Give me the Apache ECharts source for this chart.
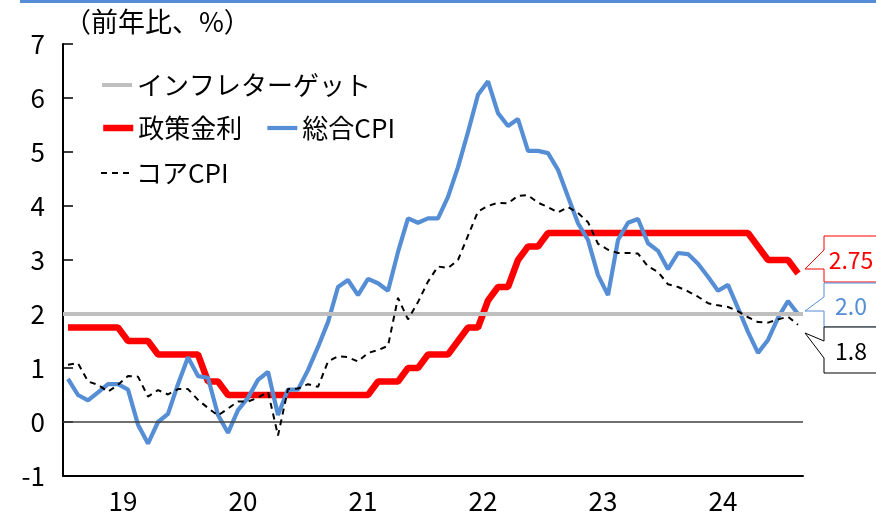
<!DOCTYPE html>
<html>
<head>
<meta charset="utf-8">
<script src="https://cdn.jsdelivr.net/npm/echarts@6/dist/echarts.min.js"></script>
<style>
  html, body { margin: 0; padding: 0; background: #fff; }
  #chart { width: 876px; height: 516px; }
</style>
</head>
<body>
<div id="chart"></div>
<script>
// monthly, 2019-01 .. 2025-02
const START_YEAR = 2019;
const N_MONTHS = 74;
const YEAR_LABELS = ['19', '20', '21', '22', '23', '24'];
const TARGET = 2;

const POLICY_RATE = [
  1.75, 1.75, 1.75, 1.75, 1.75, 1.75, 1.5, 1.5, 1.5, 1.25, 1.25, 1.25,
  1.25, 1.25, 0.75, 0.75, 0.5, 0.5, 0.5, 0.5, 0.5, 0.5, 0.5, 0.5,
  0.5, 0.5, 0.5, 0.5, 0.5, 0.5, 0.5, 0.75, 0.75, 0.75, 1.0, 1.0,
  1.25, 1.25, 1.25, 1.5, 1.75, 1.75, 2.25, 2.5, 2.5, 3.0, 3.25, 3.25,
  3.5, 3.5, 3.5, 3.5, 3.5, 3.5, 3.5, 3.5, 3.5, 3.5, 3.5, 3.5,
  3.5, 3.5, 3.5, 3.5, 3.5, 3.5, 3.5, 3.5, 3.5, 3.25, 3.0, 3.0,
  3.0, 2.75
];

const CPI_ALL = [
  0.8, 0.5, 0.4, 0.55, 0.7, 0.7, 0.6, -0.05, -0.4, 0.0, 0.15, 0.7,
  1.2, 0.85, 0.82, 0.13, -0.2, 0.22, 0.45, 0.78, 0.93, 0.13, 0.6, 0.6,
  0.96, 1.39, 1.85, 2.5, 2.63, 2.35, 2.65, 2.57, 2.43, 3.15, 3.77, 3.69,
  3.77, 3.77, 4.17, 4.72, 5.37, 6.06, 6.31, 5.72, 5.48, 5.61, 5.02, 5.02,
  4.98, 4.67, 4.17, 3.68, 3.37, 2.72, 2.35, 3.37, 3.69, 3.76, 3.31, 3.17,
  2.83, 3.13, 3.11, 2.93, 2.69, 2.43, 2.54, 2.11, 1.67, 1.28, 1.52, 1.93,
  2.24, 2.0
];

const CPI_CORE = [
  1.06, 1.09, 0.75, 0.69, 0.56, 0.69, 0.85, 0.84, 0.47, 0.59, 0.51, 0.61,
  0.61, 0.41, 0.26, 0.12, 0.25, 0.38, 0.38, 0.45, 0.56, -0.25, 0.61, 0.62,
  0.7, 0.65, 1.12, 1.22, 1.2, 1.12, 1.28, 1.33, 1.41, 2.3, 1.9, 2.22,
  2.6, 2.88, 2.85, 3.0, 3.45, 3.9, 4.0, 4.06, 4.05, 4.19, 4.2, 4.06,
  3.98, 3.88, 3.98, 3.87, 3.7, 3.3, 3.19, 3.13, 3.13, 3.12, 2.88, 2.78,
  2.55, 2.5, 2.42, 2.32, 2.2, 2.16, 2.13, 2.05, 1.94, 1.85, 1.84, 1.9,
  1.95, 1.8
];

const months = [];
for (let i = 0; i < N_MONTHS; i++) {
  const y = START_YEAR + Math.floor(i / 12);
  const m = (i % 12) + 1;
  months.push(y + '-' + (m < 10 ? '0' + m : m));
}

const FONT = 'Noto Sans CJK JP';
const RED = '#ff0000';
const BLUE = '#558ed5';
const GRAY = '#bfbfbf';

const chart = echarts.init(document.getElementById('chart'));

const legendText = { fontFamily: FONT, fontSize: 26, color: '#000', lineHeight: 30 };
// line series put a circle in the middle of the legend line; hide it,
// and keep the series' own line width in the icon
const legendBase = {
  left: 100, padding: 0, itemWidth: 30, itemHeight: 14,
  itemStyle: { opacity: 0 },
  lineStyle: { width: 'inherit' },
  textStyle: legendText
};

function callout(color, top, tipY, upY, lowY, bottom, text, textY) {
  return [
    {
      type: 'polyline',
      z: 100,
      shape: {
        points: [[880, top], [824, top], [824, upY], [805, tipY], [824, lowY], [824, bottom], [880, bottom]]
      },
      style: { stroke: color, fill: '#fff', lineWidth: 1 }
    },
    {
      type: 'text',
      z: 101,
      x: 851,
      y: textY,
      style: {
        text: text,
        fill: color,
        font: '23px "' + FONT + '"',
        align: 'center',
        verticalAlign: 'middle'
      }
    }
  ];
}

const last = N_MONTHS - 1;

chart.setOption({
  animation: false,
  textStyle: { fontFamily: FONT },
  grid: { left: 63, right: 73, top: 44, bottom: 40 },
  legend: [
    Object.assign({}, legendBase, { top: 70, data: ['インフレターゲット'] }),
    Object.assign({}, legendBase, { top: 113, itemGap: 23, data: ['政策金利', '総合CPI'] }),
    Object.assign({}, legendBase, { top: 158, data: ['コアCPI'] })
  ],
  xAxis: {
    type: 'category',
    data: months,
    boundaryGap: true,
    axisLine: { onZero: false, lineStyle: { color: '#000', width: 2 } },
    axisTick: {
      inside: true,
      length: 11,
      lineStyle: { color: '#000', width: 1.5 },
      interval: (index) => index > 0 && index % 12 === 0
    },
    axisLabel: {
      interval: (index) => index % 12 === 5,
      margin: 12,
      formatter: (value) => '{a|' + YEAR_LABELS[Number(value.slice(0, 4)) - START_YEAR] + '}',
      rich: { a: { fontFamily: FONT, fontSize: 26, color: '#000', padding: [0, 0, 0, 10] } }
    },
    splitLine: { show: false }
  },
  yAxis: {
    type: 'value',
    min: -1,
    max: 7,
    interval: 1,
    axisLine: { show: true, lineStyle: { color: '#000', width: 2 } },
    axisTick: { show: true, inside: true, length: 10, lineStyle: { color: '#000', width: 1.5 } },
    axisLabel: { margin: 18, fontFamily: FONT, fontSize: 26, color: '#000' },
    splitLine: { show: false }
  },
  series: [
    {
      name: 'インフレターゲット',
      type: 'line',
      data: [],
      symbol: 'none',
      color: GRAY,
      lineStyle: { color: GRAY, width: 4 },
      markLine: {
        silent: true,
        symbol: 'none',
        label: { show: false },
        lineStyle: { color: GRAY, width: 4, type: 'solid' },
        data: [{ yAxis: TARGET }]
      },
      z: 1
    },
    {
      name: 'zero',
      type: 'line',
      data: [],
      symbol: 'none',
      markLine: {
        silent: true,
        symbol: 'none',
        label: { show: false },
        lineStyle: { color: '#404040', width: 1.5, type: 'solid' },
        data: [{ yAxis: 0 }]
      },
      z: 1
    },
    {
      name: '政策金利',
      type: 'line',
      data: POLICY_RATE,
      symbol: 'none',
      color: RED,
      lineStyle: { color: RED, width: 6.5 },
      z: 3
    },
    {
      name: '総合CPI',
      type: 'line',
      data: CPI_ALL,
      symbol: 'none',
      color: BLUE,
      lineStyle: { color: BLUE, width: 4.2 },
      z: 4
    },
    {
      name: 'コアCPI',
      type: 'line',
      data: CPI_CORE,
      symbol: 'none',
      color: '#000',
      lineStyle: { color: '#000', width: 2, type: [6, 5] },
      z: 5
    }
  ],
  graphic: [
    { type: 'rect', shape: { x: 20, y: 0, width: 856, height: 3 }, style: { fill: BLUE } },
    {
      type: 'text',
      x: 64,
      y: 22,
      style: {
        text: '（前年比、%）',
        fill: '#000',
        font: '27px "' + FONT + '"',
        verticalAlign: 'middle'
      }
    },
    ...callout(RED, 236, 269, 250, 269, 282, POLICY_RATE[last].toFixed(2), 260),
    ...callout(BLUE, 283, 311, 297, 311, 327, CPI_ALL[last].toFixed(1), 306),
    ...callout('#000', 327, 333, 341, 358, 373, CPI_CORE[last].toFixed(1), 351)
  ]
});
</script>
</body>
</html>
